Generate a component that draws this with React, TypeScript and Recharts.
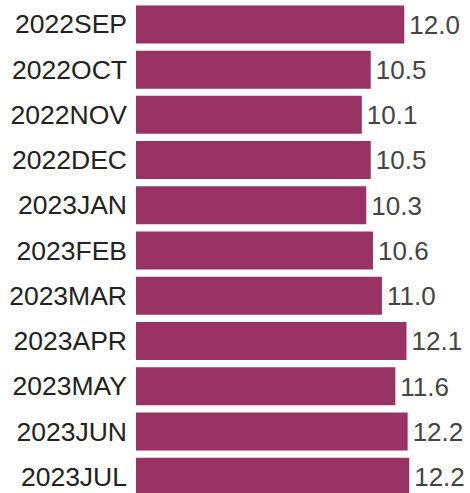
import { BarChart, Bar, XAxis, YAxis, LabelList } from 'recharts';

const months = [
  '2022SEP', '2022OCT', '2022NOV', '2022DEC', '2023JAN', '2023FEB',
  '2023MAR', '2023APR', '2023MAY', '2023JUN', '2023JUL',
];
const values = [12.0, 10.5, 10.1, 10.5, 10.3, 10.6, 11.0, 12.1, 11.6, 12.15, 12.22];

const data = months.map((m, i) => ({ month: m, value: values[i] }));

const font = 'Liberation Sans, Arial, sans-serif';

export default function App() {
  return (
    <div style={{ position: 'fixed', left: 0, top: 0, background: '#fff' }}>
      <BarChart
        layout="vertical"
        width={470}
        height={499}
        data={data}
        margin={{ top: 1.4, right: 21, left: 0, bottom: 0 }}
        barSize={38}
      >
        <XAxis type="number" domain={[0, 14]} hide />
        <YAxis
          type="category"
          dataKey="month"
          width={136}
          axisLine={false}
          tickLine={false}
          tickSize={0}
          tickMargin={9}
          interval={0}
          tick={{ fontSize: 26.5, fill: '#222', fontFamily: font }}
        />
        <Bar dataKey="value" fill="#983363" isAnimationActive={false}>
          <LabelList
            dataKey="value"
            position="right"
            offset={5}
            formatter={(v: number) => v.toFixed(1)}
            style={{ fontSize: 26, fill: '#444', fontFamily: font }}
          />
        </Bar>
      </BarChart>
    </div>
  );
}
